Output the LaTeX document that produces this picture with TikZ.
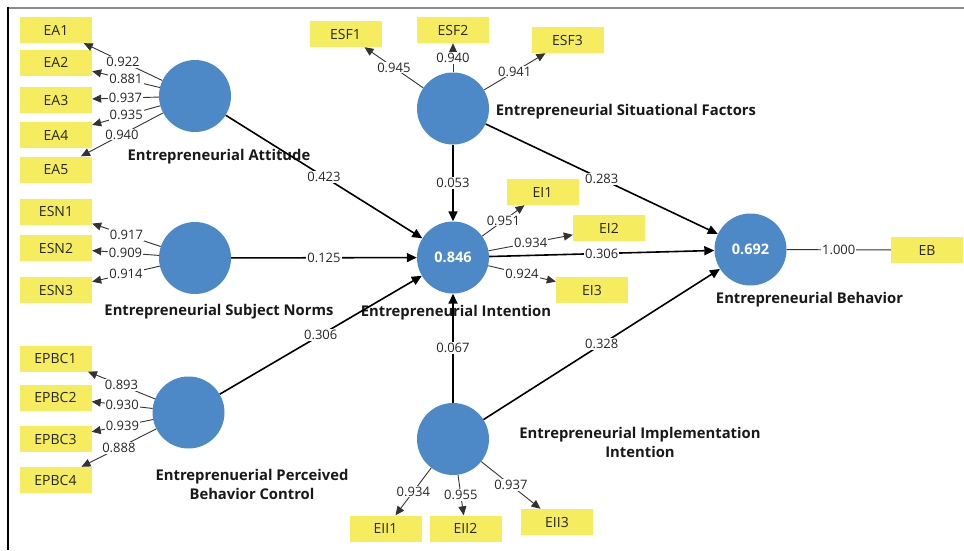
\documentclass[tikz,border=0pt]{standalone}
\usepackage{fontspec}
\setmainfont{Open Sans}
\usetikzlibrary{arrows.meta}
\definecolor{lvblue}{RGB}{78,137,199}
\definecolor{indyel}{RGB}{245,237,95}
\begin{document}
\begin{tikzpicture}[x=1pt,y=-1pt,
 lv/.style={circle,fill=lvblue,minimum size=72pt,inner sep=0pt,text=white,font=\fontsize{14.5}{16}\selectfont\bfseries},
 ind/.style={rectangle,fill=indyel,minimum width=72pt,minimum height=26pt,inner sep=0pt,font=\fontsize{14}{16}\selectfont,text=black!85},
 lvname/.style={font=\fontsize{14.8}{19}\selectfont\bfseries,align=center,text=black!90},
 num/.style={fill=white,inner sep=1pt,font=\fontsize{13}{15}\selectfont,text=black!85},
 strpath/.style={line width=1.6pt,-{Triangle[length=10pt,width=9pt]}},
 loading/.style={line width=0.9pt,draw=black!80,-{Triangle[length=9pt,width=8pt]}},
 plainload/.style={line width=0.9pt,draw=black!80},
]
\useasboundingbox (0,0) rectangle (964,550);
\fill[white] (0,0) rectangle (964,550);
\draw[black!45,line width=2pt] (7,7.5) -- (964,7.5);
\draw[black,line width=1.2pt] (8,7) -- (8,550);

% latent variables
\node[lv] (EA) at (195,96) {};
\node[lv] (ESN) at (195,258) {};
\node[lv] (EPBC) at (188.5,412.5) {};
\node[lv] (ESF) at (453,108.5) {};
\node[lv] (EI) at (453,257.5) {0.846};
\node[lv] (EII) at (453,439) {};
\node[lv] (EB) at (750.5,249.5) {0.692};

% indicators
\node[ind] (EA1) at (56,30) {EA1};
\node[ind] (EA2) at (56,62.5) {EA2};
\node[ind] (EA3) at (56,100) {EA3};
\node[ind] (EA4) at (56,135) {EA4};
\node[ind] (EA5) at (56,169.5) {EA5};
\node[ind] (ESN1) at (56,211.5) {ESN1};
\node[ind] (ESN2) at (56,248) {ESN2};
\node[ind] (ESN3) at (56,290) {ESN3};
\node[ind] (EPBC1) at (55.5,358.5) {EPBC1};
\node[ind] (EPBC2) at (55.5,397.5) {EPBC2};
\node[ind] (EPBC3) at (55.5,439) {EPBC3};
\node[ind] (EPBC4) at (55.5,480) {EPBC4};
\node[ind] (ESF1) at (345.5,34) {ESF1};
\node[ind] (ESF2) at (453,30) {ESF2};
\node[ind] (ESF3) at (567.5,40) {ESF3};
\node[ind] (EI1) at (542.5,192) {EI1};
\node[ind] (EI2) at (609,228) {EI2};
\node[ind] (EI3) at (592,290) {EI3};
\node[ind] (EBi) at (927,250) {EB};
\node[ind] (EII1) at (385.5,528.5) {EII1};
\node[ind] (EII2) at (465.5,528.5) {EII2};
\node[ind] (EII3) at (557,522) {EII3};

% construct names
\node[lvname] (nEA) at (219,157) {Entrepreneurial Attitude};
\node[lvname] (nESN) at (219,312) {Entrepreneurial Subject Norms};
\node[lvname] (nEPBC) at (252,484) {Entreprenuerial Perceived\\Behavior Control};
\node[lvname] (nESF) at (626,112) {Entrepreneurial Situational Factors};
\node[lvname] (nEI) at (456,313) {Entrepreneurial Intention};
\node[lvname] (nEB) at (809.5,300) {Entrepreneurial Behavior};
\node[lvname] (nEII) at (640,442.5) {Entrepreneurial Implementation\\Intention};

% structural paths
\draw[strpath] (EA) -- (EI) node[num,midway] {0.423};
\draw[strpath] (ESN) -- (EI) node[num,midway] {0.125};
\draw[strpath] (EPBC) -- (EI) node[num,midway] {0.306};
\draw[strpath] (ESF) -- (EI) node[num,midway] {0.053};
\draw[strpath] (EII) -- (EI) node[num,midway] {0.067};
\draw[strpath] (ESF) -- (EB) node[num,midway] {0.283};
\draw[strpath] (EI) -- (EB) node[num,midway] {0.306};
\draw[strpath] (EII) -- (EB) node[num,midway] {0.328};

% loadings
\draw[loading] (EA) -- (EA1) node[num,midway] {0.922};
\draw[loading] (EA) -- (EA2) node[num,midway] {0.881};
\draw[loading] (EA) -- (EA3) node[num,midway] {0.937};
\draw[loading] (EA) -- (EA4) node[num,midway] {0.935};
\draw[loading] (EA) -- (EA5) node[num,midway] {0.940};
\draw[loading] (ESN) -- (ESN1) node[num,midway] {0.917};
\draw[loading] (ESN) -- (ESN2) node[num,midway] {0.909};
\draw[loading] (ESN) -- (ESN3) node[num,midway] {0.914};
\draw[loading] (EPBC) -- (EPBC1) node[num,midway] {0.893};
\draw[loading] (EPBC) -- (EPBC2) node[num,midway] {0.930};
\draw[loading] (EPBC) -- (EPBC3) node[num,midway] {0.939};
\draw[loading] (EPBC) -- (EPBC4) node[num,midway] {0.888};
\draw[loading] (ESF) -- (ESF1) node[num,midway] {0.945};
\draw[loading] (ESF) -- (ESF2) node[num,midway] {0.940};
\draw[loading] (ESF) -- (ESF3) node[num,midway] {0.941};
\draw[loading] (EI) -- (EI1) node[num,midway] {0.951};
\draw[loading] (EI) -- (EI2) node[num,midway] {0.934};
\draw[loading] (EI) -- (EI3) node[num,midway] {0.924};
\draw[loading] (EII) -- (EII1) node[num,midway] {0.934};
\draw[loading] (EII) -- (EII2) node[num,midway] {0.955};
\draw[loading] (EII) -- (EII3) node[num,midway] {0.937};
\draw[plainload] (EB) -- (EBi) node[num,midway] {1.000};
\end{tikzpicture}
\end{document}
